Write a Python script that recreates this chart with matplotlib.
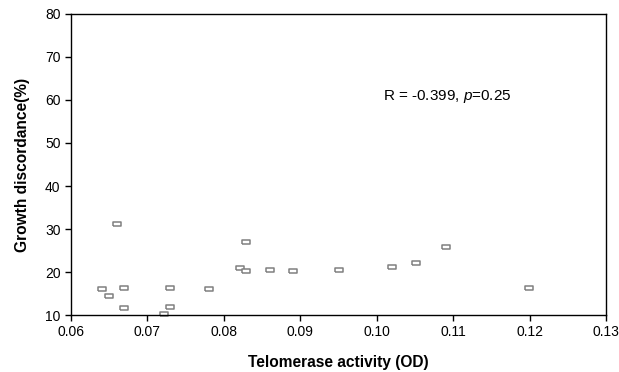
import matplotlib
matplotlib.use('Agg')
import matplotlib.pyplot as plt

plt.rcParams['font.family'] = ['Liberation Sans', 'DejaVu Sans']
plt.rcParams['mathtext.fontset'] = 'custom'
plt.rcParams['mathtext.rm'] = 'Liberation Sans'
plt.rcParams['mathtext.it'] = 'Liberation Sans:italic'

telomerase = [0.0641, 0.0650, 0.0660, 0.0669, 0.0669, 0.0722, 0.0730, 0.0730, 0.0781, 0.0821,
              0.0829, 0.0829, 0.0860, 0.0890, 0.0951, 0.1020, 0.1052, 0.1091, 0.1199]
growth = [16.0, 14.4, 31.2, 16.3, 11.6, 10.2, 16.3, 11.9, 16.0, 20.9,
          27.0, 20.2, 20.5, 20.2, 20.5, 21.2, 22.1, 25.8, 16.3]
xticks = [0.06, 0.07, 0.08, 0.09, 0.10, 0.11, 0.12, 0.13]
yticks = [10, 20, 30, 40, 50, 60, 70, 80]

fig = plt.figure(figsize=(6.19, 3.72), dpi=100)
ax = fig.add_axes([0.1147, 0.1532, 0.8643, 0.8092])

# small hollow rectangles, wider than tall
rect = [(-1.5, -1), (1.5, -1), (1.5, 1), (-1.5, 1), (-1.5, -1)]
ax.plot(telomerase, growth, linestyle='none', marker=rect, markersize=5.2,
        markerfacecolor='white', markeredgecolor='#808080', markeredgewidth=1.1, clip_on=False)

ax.set_xlim(0.06, 0.13)
ax.set_ylim(10, 80)
ax.set_xticks(xticks)
ax.set_xticklabels(['%.2f' % t for t in xticks])
ax.set_yticks(yticks)
ax.tick_params(direction='out', length=4, width=1, labelsize=10, colors='black')
for s in ax.spines.values():
    s.set_linewidth(1)
    s.set_color('black')

ax.set_xlabel('Telomerase activity (OD)', fontsize=11.2, fontweight='bold', labelpad=11)
ax.set_ylabel('Growth discordance(%)', fontsize=11.2, fontweight='bold', labelpad=11)

ax.text(0.1008, 60.7, 'R = -0.399, $\\it{p}$=0.25', fontsize=11, va='center', ha='left')

fig.savefig('out.png', dpi=100)
